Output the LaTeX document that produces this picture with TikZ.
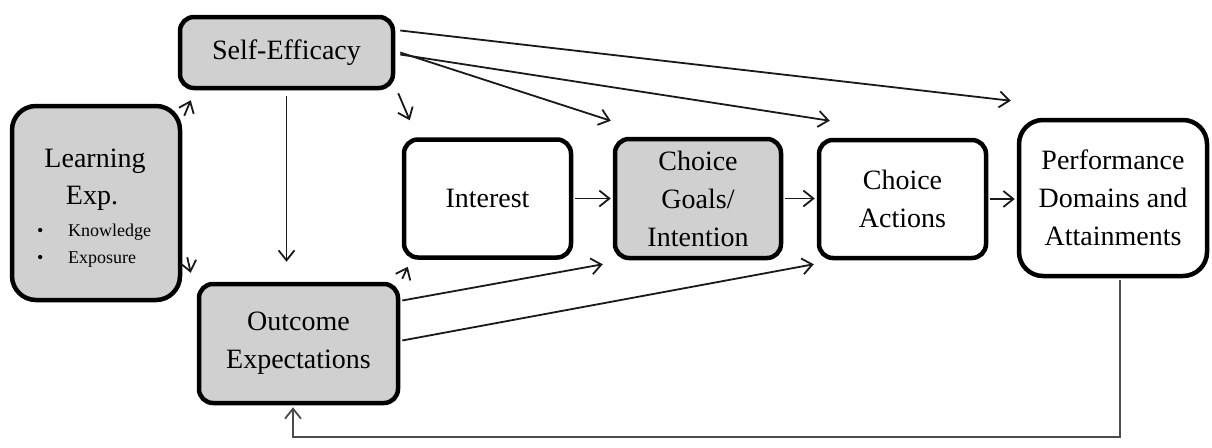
\documentclass[tikz,border=0pt]{standalone}
\usepackage{fontspec}
\setmainfont{Liberation Serif}
\usetikzlibrary{arrows.meta,calc}
\definecolor{boxgray}{RGB}{208,208,208}
\begin{document}
\begin{tikzpicture}[x=1pt,y=-1pt,
  box/.style={draw=black, line width=4.5pt, rounded corners=14pt, align=center,
    font=\fontsize{28}{38}\selectfont, inner sep=0pt},
  graybox/.style={box, fill=boxgray},
  whitebox/.style={box, fill=white},
  arr/.style={-{Straight Barb[length=10pt,width=16pt,line width=1.8pt]}, line width=1.8pt, draw=black!90},
  fbarr/.style={-{Straight Barb[length=10pt,width=16pt,line width=1.8pt]}, line width=2pt, draw=black!70},
  txt/.style={font=\fontsize{28}{38}\selectfont, inner sep=0pt, anchor=base},
  small/.style={font=\fontsize{18}{24}\selectfont, inner sep=0pt, anchor=base west}]
\useasboundingbox (0,0) rectangle (1212,447);

% nodes
\node[graybox, minimum width=213pt, minimum height=71pt] (se) at (286.5,52.5) {Self-Efficacy};
\node[graybox, rounded corners=24pt, minimum width=168pt, minimum height=194pt] (le) at (96,203) {};
\node[txt] (leA) at (95,167) {Learning};
\node[txt] (leB) at (92,204) {Exp.};
\node[small] (leC) at (37,236) {\makebox[31pt][l]{\textbullet}Knowledge};
\node[small] (leD) at (37,263) {\makebox[31pt][l]{\textbullet}Exposure};
\node[graybox, minimum width=199pt, minimum height=119pt] (oe) at (298.5,343.5) {Outcome\\Expectations};
\node[whitebox, minimum width=167pt, minimum height=118pt] (in) at (487.5,198.5) {Interest};
\node[graybox, minimum width=166pt, minimum height=119pt] (cg) at (698,198.5) {Choice\\Goals/\\Intention};
\node[whitebox, minimum width=167pt, minimum height=118pt] (ca) at (902.5,199) {Choice\\Actions};
\node[whitebox, rounded corners=24pt, minimum width=188pt, minimum height=156pt] (pd) at (1113,198) {Performance\\Domains and\\Attainments};

% connectors from Self-Efficacy
\draw[arr] ($(se.east)+(5,-22)$) -- ($(pd.north west)+(-6,-17)$);
\draw[arr] ($(se.east)+(5,0)$) -- ($(cg.north west)+(-2,-16)$);
\draw[arr] ($(se.east)+(5,2)$) -- ($(ca.north west)+(13,-17)$);
\draw[arr] ($(se.south east)+(3,3)$) -- ($(in.north west)+(8,-17)$);
\draw[arr] ($(se.south)+(0,6)$) -- ($(se.south |- oe.north)+(0,-20)$);

% from Learning Exp.
\draw[arr] ($(le.north east)+(2,12)$) -- ($(se.south west)+(13,10)$);
\draw[arr] ($(le.south east)+(5,-45)$) -- ($(oe.north west)+(-6,-9)$);

% from Outcome Expectations
\draw[arr] ($(oe.north east)+(2,-3)$) -- ($(in.south west)+(6,7)$);
\draw[arr] ($(oe.east)+(2,-43)$) -- ($(cg.south west)+(-10,4)$);
\draw[arr] ($(oe.east)+(2,-3)$) -- ($(ca.south west)+(-3,4)$);

% chain
\draw[arr, shorten <=2pt, shorten >=2pt] (in.east) -- (cg.west);
\draw[arr, shorten <=2pt, shorten >=2pt] (cg.east) -- (cg.east -| ca.west);
\draw[arr, shorten <=2pt, shorten >=2pt] (ca.east) -- (ca.east -| pd.west);

% feedback
\coordinate (fb) at (293,437);
\draw[fbarr, shorten >=2pt] ($(pd.south)+(7,2)$) |- (fb) -- (fb |- oe.south);
\end{tikzpicture}
\end{document}
